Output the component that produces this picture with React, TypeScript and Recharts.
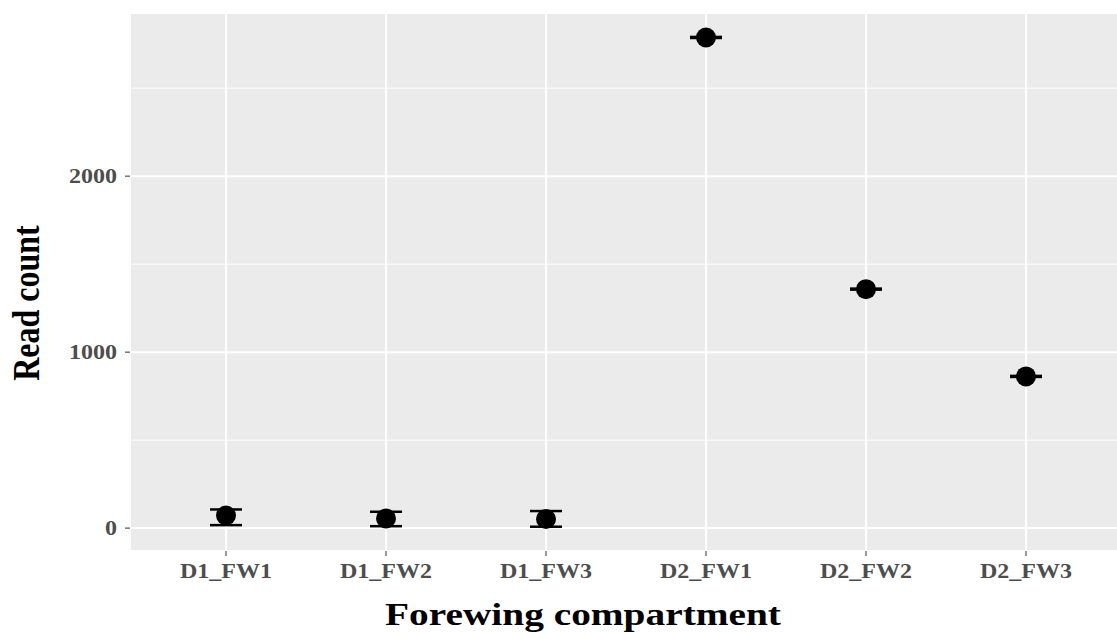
import { ComposedChart, Scatter, ErrorBar, XAxis, YAxis, CartesianGrid, ReferenceLine, Label } from 'recharts';

const categories = ['D1_FW1', 'D1_FW2', 'D1_FW3', 'D2_FW1', 'D2_FW2', 'D2_FW3'];
const meanCounts = [72, 55, 52, 2788, 1358, 862];
const lowerCounts = [17, 11, 8, 2785, 1355, 859];
const upperCounts = [106, 93, 97, 2791, 1361, 865];

const yTicks = [0, 1000, 2000];
const minorTicks = [500, 1500, 2500];

const data = categories.map((name, i) => ({
  name,
  mean: meanCounts[i],
  err: [meanCounts[i] - lowerCounts[i], upperCounts[i] - meanCounts[i]],
}));

const SERIF = '"Liberation Serif", "Times New Roman", serif';
// text in this figure is drawn a little wider than tall
const STRETCH = 1.2;

const Dot = (props: any) => <circle cx={props.cx} cy={props.cy} r={10} fill="#000" />;

const XTick = ({ x, y, payload }: any) => (
  <g transform={`translate(${x},${y}) scale(${STRETCH},1)`}>
    <text textAnchor="middle" dy="0.71em" fill="#4d4d4d" fontSize={20} fontWeight={700} fontFamily={SERIF}>
      {payload.value}
    </text>
  </g>
);

const YTick = ({ x, y, payload }: any) => (
  <g transform={`translate(${x},${y}) scale(${STRETCH},1)`}>
    <text textAnchor="end" dy="0.355em" fill="#4d4d4d" fontSize={20} fontWeight={700} fontFamily={SERIF}>
      {payload.value}
    </text>
  </g>
);

const App = () => {
  return (
    <div style={{ position: 'fixed', left: 0, top: 0, width: 1117, height: 639, overflow: 'hidden', background: '#fff' }}>
      <ComposedChart width={1130} height={639} data={data} margin={{ top: 13, right: 8, bottom: 0, left: 0 }}>
        <CartesianGrid fill="#ebebeb" stroke="#fff" strokeWidth={2} />
        {minorTicks.map((v) => (
          <ReferenceLine key={v} y={v} stroke="#fff" strokeWidth={1} />
        ))}
        <XAxis
          dataKey="name"
          type="category"
          padding={{ left: 96, right: 96 }}
          height={88}
          axisLine={false}
          tickSize={5}
          tickMargin={8}
          tickLine={{ stroke: '#333' }}
          tick={<XTick />}
        >
          <Label
            content={({ viewBox }: any) => (
              <g transform={`translate(${viewBox.x + viewBox.width / 2 - 43},${viewBox.y + 74}) scale(1.23,1)`}>
                <text textAnchor="middle" fill="#000" fontSize={32} fontWeight={700} fontFamily={SERIF}>
                  Forewing compartment
                </text>
              </g>
            )}
          />
        </XAxis>
        <YAxis
          type="number"
          domain={[-130, 2927]}
          ticks={yTicks}
          allowDataOverflow
          width={130}
          axisLine={false}
          tickSize={5}
          tickMargin={8}
          tickLine={{ stroke: '#333' }}
          tick={<YTick />}
        >
          <Label
            content={({ viewBox }: any) => (
              <g transform={`translate(27,${viewBox.y + viewBox.height / 2 + 21}) scale(${STRETCH},1) rotate(-90)`}>
                <text textAnchor="middle" dominantBaseline="central" fill="#000" fontSize={32} fontWeight={700} fontFamily={SERIF}>
                  Read count
                </text>
              </g>
            )}
          />
        </YAxis>
        <Scatter dataKey="mean" shape={Dot} isAnimationActive={false}>
          <ErrorBar dataKey="err" direction="y" width={16} stroke="#000" strokeWidth={2.5} isAnimationActive={false} />
        </Scatter>
      </ComposedChart>
    </div>
  );
};

export default App;
